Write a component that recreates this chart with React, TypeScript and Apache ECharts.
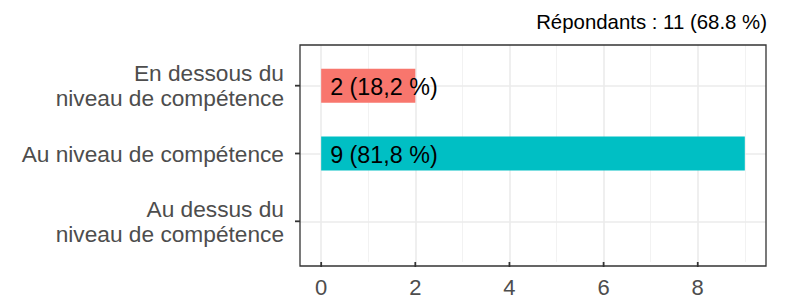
import React, { useEffect, useRef } from "react";
import * as echarts from "echarts";

const categories = [
  "En dessous du\nniveau de compétence",
  "Au niveau de compétence",
  "Au dessus du\nniveau de compétence",
];
const counts = [2, 9, 0];
const barLabels = ["2 (18,2 %)", "9 (81,8 %)", ""];
const barColors = ["#F8766D", "#00BFC4", "#619CFF"];
const xMajorTicks = [0, 2, 4, 6, 8];
const xMinorTicks = [1, 3, 5, 7, 9];
const yPositions = [1, 2, 3];
const titleText = "Répondants : 11 (68.8 %)";

const X_MIN = -0.45;
const X_MAX = 9.45;
const Y_MIN = 0.4;
const Y_MAX = 3.6;

const FONT = "'Liberation Sans', Arial, Helvetica, sans-serif";

export default function App() {
  const ref = useRef<HTMLDivElement>(null);
  useEffect(() => {
    document.body.style.margin = "0";
    if (!ref.current) return;
    const chart = echarts.init(ref.current, null, { renderer: "svg" });
    const gridLeft = 300;
    const gridTop = 45;
    const gridW = 466;
    const gridH = 221;
    const tickLen = 5;
    const tickStyle = { stroke: "#333333", lineWidth: 1.8 };
    const option: any = {
      animation: false,
      textStyle: { fontFamily: FONT },
      title: {
        text: titleText,
        right: 16,
        top: 7,
        textStyle: { fontSize: 20.4, fontWeight: "normal", color: "#000", fontFamily: FONT },
      },
      grid: { left: gridLeft, top: gridTop, width: gridW, height: gridH, containLabel: false },
      xAxis: {
        type: "value",
        min: X_MIN,
        max: X_MAX,
        axisLine: { show: false, onZero: false },
        splitLine: { show: false },
        axisTick: { show: false },
        axisLabel: {
          customValues: xMajorTicks,
          fontSize: 22,
          color: "#4D4D4D",
          margin: 14,
          fontFamily: FONT,
        },
      },
      yAxis: {
        type: "value",
        min: Y_MIN,
        max: Y_MAX,
        inverse: true,
        axisLine: { show: false, onZero: false },
        splitLine: { show: false },
        axisTick: { show: false },
        axisLabel: {
          customValues: yPositions,
          formatter: (v: number) => categories[Math.round(v) - 1] ?? "",
          fontSize: 22.7,
          lineHeight: 25,
          color: "#4D4D4D",
          margin: 16,
          fontFamily: FONT,
        },
      },
      series: [
        {
          type: "line",
          data: [],
          z: 1,
          silent: true,
          markLine: {
            silent: true,
            z: 1,
            symbol: "none",
            label: { show: false },
            animation: false,
            data: [
              ...xMinorTicks.map((v) => ({ xAxis: v, lineStyle: { color: "#F2F2F2", width: 1, type: "solid" } })),
              ...xMajorTicks.map((v) => ({ xAxis: v, lineStyle: { color: "#EBEBEB", width: 1.6, type: "solid" } })),
              ...yPositions.map((v) => ({ yAxis: v, lineStyle: { color: "#EBEBEB", width: 1.6, type: "solid" } })),
            ],
          },
        },
        {
          type: "custom",
          z: 20,
          encode: { x: 0, y: 1 },
          data: counts.map((c, i) => [c, yPositions[i], i]),
          renderItem: (params: any, api: any) => {
            const v = api.value(0);
            const y = api.value(1);
            const idx = api.value(2);
            const start = api.coord([0, y]);
            const end = api.coord([v, y]);
            const h = api.size([0, 0.5])[1];
            return {
              type: "group",
              children: [
                {
                  type: "rect",
                  shape: { x: start[0], y: start[1] - h / 2, width: end[0] - start[0], height: h },
                  style: { fill: barColors[idx] },
                },
                {
                  type: "text",
                  x: start[0] + 9,
                  y: start[1] + 1,
                  style: {
                    text: barLabels[idx],
                    fill: "#000",
                    fontSize: 23.3,
                    fontFamily: FONT,
                    align: "left",
                    verticalAlign: "middle",
                  },
                },
              ],
            };
          },
        },
        {
          type: "custom",
          z: 30,
          silent: true,
          clip: false,
          encode: { x: 0, y: 1 },
          data: xMajorTicks.map((v) => [v, Y_MAX]),
          renderItem: (params: any, api: any) => {
            const p = api.coord([api.value(0), api.value(1)]);
            return {
              type: "line",
              shape: { x1: p[0], y1: p[1], x2: p[0], y2: p[1] + tickLen },
              style: tickStyle,
            };
          },
        },
        {
          type: "custom",
          z: 30,
          silent: true,
          clip: false,
          encode: { x: 0, y: 1 },
          data: yPositions.map((v) => [X_MIN, v]),
          renderItem: (params: any, api: any) => {
            const p = api.coord([api.value(0), api.value(1)]);
            return {
              type: "line",
              shape: { x1: p[0], y1: p[1], x2: p[0] - tickLen, y2: p[1] },
              style: tickStyle,
            };
          },
        },
      ],
      graphic: [
        {
          type: "rect",
          z: 100,
          silent: true,
          shape: { x: gridLeft, y: gridTop, width: gridW, height: gridH },
          style: { fill: "none", stroke: "#333333", lineWidth: 1.3 },
        },
      ],
    };
    chart.setOption(option);
    return () => chart.dispose();
  }, []);
  return <div ref={ref} style={{ width: 788, height: 298 }} />;
}
